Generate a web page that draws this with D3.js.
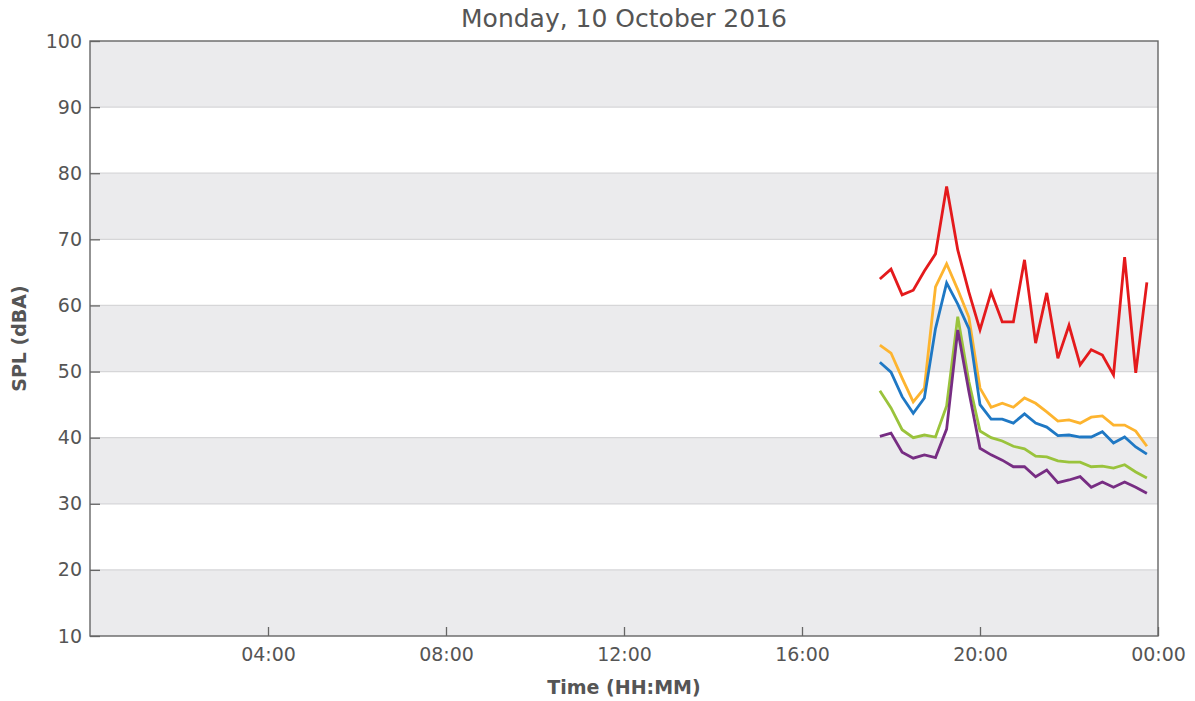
<!DOCTYPE html>
<html>
<head>
<meta charset="utf-8">
<script src="https://cdn.jsdelivr.net/npm/d3@7"></script>
<style>
  html, body { margin: 0; padding: 0; background: #fff; }
  svg { display: block; font-family: "DejaVu Sans", sans-serif; }
</style>
</head>
<body>
<svg id="chart" width="1195" height="701"></svg>
<script>
const title = "Monday, 10 October 2016";
const xLabel = "Time (HH:MM)";
const yLabel = "SPL (dBA)";

const times = ["17:45","18:00","18:15","18:30","18:45","19:00","19:15","19:30","19:45","20:00",
               "20:15","20:30","20:45","21:00","21:15","21:30","21:45","22:00","22:15","22:30",
               "22:45","23:00","23:15","23:30","23:45"];

const redValues    = [64.0,65.5,61.6,62.3,65.2,67.8,78.0,68.4,62.0,56.3,62.0,57.5,57.5,66.9,54.3,61.9,52.0,57.0,51.0,53.3,52.5,49.5,67.3,49.8,63.5];
const orangeValues = [54.0,52.8,49.0,45.4,47.5,62.8,66.3,62.4,58.2,47.5,44.6,45.2,44.6,46.0,45.2,43.9,42.5,42.7,42.2,43.1,43.3,41.9,41.9,41.0,38.7];
const blueValues   = [51.4,49.9,46.2,43.7,46.0,56.5,63.4,60.2,56.5,45.0,42.8,42.8,42.2,43.6,42.2,41.6,40.3,40.4,40.1,40.1,40.9,39.2,40.1,38.6,37.5];
const greenValues  = [47.1,44.5,41.2,40.0,40.4,40.1,44.8,58.3,48.5,41.0,40.0,39.5,38.7,38.3,37.2,37.1,36.5,36.3,36.3,35.6,35.7,35.4,35.9,34.8,33.9];
const purpleValues = [40.2,40.7,37.8,36.9,37.4,37.0,41.3,56.3,47.0,38.4,37.4,36.6,35.6,35.6,34.1,35.1,33.2,33.6,34.1,32.5,33.3,32.5,33.3,32.5,31.6];

const seriesColors = ["#e41a1c","#fdb42f","#1f78c4","#9ac33c","#772d83"];
const yTicks = [10,20,30,40,50,60,70,80,90,100];
const xTickHours = [4,8,12,16,20,24];

const series = [redValues, orangeValues, blueValues, greenValues, purpleValues];

const svg = d3.select("#chart");
const margin = {left: 90, right: 1195 - 1158, top: 41, bottom: 701 - 636};
const W = 1195, H = 701;
const innerW = W - margin.left - margin.right;
const innerH = H - margin.top - margin.bottom;

const day0 = new Date(2016, 9, 10, 0, 0);
const day1 = new Date(2016, 9, 11, 0, 0);
const parseT = t => { const [h, m] = t.split(":").map(Number); return new Date(2016, 9, 10, h, m); };

const x = d3.scaleTime().domain([day0, day1]).range([margin.left, margin.left + innerW]);
const y = d3.scaleLinear().domain([10, 100]).range([margin.top + innerH, margin.top]);

// background bands
const bands = yTicks.slice(0, -1).map((v, i) => ({lo: v, hi: yTicks[i + 1], i}));
svg.append("g").selectAll("rect").data(bands).join("rect")
  .attr("x", margin.left).attr("width", innerW)
  .attr("y", d => y(d.hi)).attr("height", d => y(d.lo) - y(d.hi))
  .attr("fill", d => d.i % 2 === 0 ? "#ebebed" : "#ffffff");

// grid lines
svg.append("g").selectAll("line").data(yTicks.slice(1, -1)).join("line")
  .attr("x1", margin.left).attr("x2", margin.left + innerW)
  .attr("y1", d => y(d)).attr("y2", d => y(d))
  .attr("stroke", "#d6d6d8").attr("stroke-width", 1.2);

// lines
const line = d3.line().x((d, i) => x(parseT(times[i]))).y(d => y(d));
svg.append("g").selectAll("path").data(series).join("path")
  .attr("d", d => line(d))
  .attr("fill", "none")
  .attr("stroke", (d, i) => seriesColors[i])
  .attr("stroke-width", 2.8)
  .attr("stroke-linejoin", "miter");

// axes
const yAxis = d3.axisLeft(y).tickValues(yTicks).tickSize(-10).tickPadding(8).tickFormat(d3.format("d"));
const gy = svg.append("g").attr("transform", `translate(${margin.left},0)`).call(yAxis);
const xAxis = d3.axisBottom(x)
  .tickValues(xTickHours.map(h => new Date(2016, 9, 10, h, 0)))
  .tickSize(-9).tickPadding(12).tickFormat(d3.timeFormat("%H:%M"));
const gx = svg.append("g").attr("transform", `translate(0,${margin.top + innerH})`).call(xAxis);

[gx, gy].forEach(g => {
  g.select(".domain").remove();
  g.selectAll(".tick line").attr("stroke", "#666").attr("stroke-width", 1.3);
  g.selectAll(".tick text").attr("fill", "#555").style("font-size", "19px").style("font-family", "DejaVu Sans");
});

// frame
svg.append("rect")
  .attr("x", margin.left).attr("y", margin.top).attr("width", innerW).attr("height", innerH)
  .attr("fill", "none").attr("stroke", "#666").attr("stroke-width", 1.4);

// title & labels
svg.append("text").attr("x", margin.left + innerW / 2).attr("y", 27)
  .attr("text-anchor", "middle").attr("fill", "#555").style("font-size", "25px").text(title);
svg.append("text").attr("x", margin.left + innerW / 2).attr("y", 694)
  .attr("text-anchor", "middle").attr("fill", "#555").style("font-size", "19px").style("font-weight", "bold").text(xLabel);
svg.append("text").attr("transform", `translate(26,${margin.top + innerH / 2}) rotate(-90)`)
  .attr("text-anchor", "middle").attr("fill", "#555").style("font-size", "19px").style("font-weight", "bold").text(yLabel);
</script>
</body>
</html>
